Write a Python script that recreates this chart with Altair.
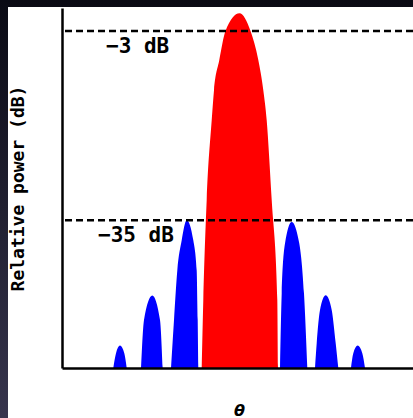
import altair as alt
import pandas as pd

# ---- data (theta: arbitrary units, power in dB) ----
main_theta = [-38.3, -36.7, -33.3, -28.3, -26.0, -20.7, -14.5, -0.5, 10.5, 18.3, 23.3, 26.7, 31.7, 37.3, 38.0]
main_db    = [-60.0, -48.5, -31.6, -18.1, -13.0, -7.9, -3.0, 0.0, -3.0, -7.9, -13.0, -18.1, -31.6, -48.5, -60.0]

l3_theta = [-126.7, -124.0, -120.0, -115.7, -113.3]
l3_db    = [-60.0, -57.5, -56.2, -57.5, -60.0]
l2_theta = [-99.0, -96.0, -87.7, -80.0, -77.3]
l2_db    = [-60.0, -51.9, -47.75, -51.9, -60.0]
l1_theta = [-69.0, -66.0, -62.7, -58.3, -53.3, -46.7, -43.3, -42.3, -41.7]
l1_db    = [-60.0, -51.9, -43.5, -38.4, -35.0, -38.4, -43.5, -51.9, -60.0]
r1_theta = [40.0, 41.7, 45.0, 51.7, 59.3, 64.0, 67.3]
r1_db    = [-60.0, -47.4, -38.95, -35.3, -38.95, -47.4, -60.0]
r2_theta = [75.0, 76.7, 80.0, 85.7, 91.7, 95.7, 98.3]
r2_db    = [-60.0, -55.8, -50.2, -47.7, -50.2, -55.8, -60.0]
r3_theta = [111.0, 113.3, 117.7, 122.3, 125.0]
r3_db    = [-60.0, -57.5, -56.2, -57.5, -60.0]

ref_levels = [-3, -35]
ref_labels = ["\u22123 dB", "\u221235 dB"]
label_theta = [-134, -142]
label_db = [-5.7, -37.7]

FLOOR = -60
X_DOMAIN = [-178, 173]
Y_DOMAIN = [-60, 0.9]

rows = []
for name, kind, th, db in [
    ("main", "main", main_theta, main_db),
    ("l3", "side", l3_theta, l3_db), ("l2", "side", l2_theta, l2_db), ("l1", "side", l1_theta, l1_db),
    ("r1", "side", r1_theta, r1_db), ("r2", "side", r2_theta, r2_db), ("r3", "side", r3_theta, r3_db),
]:
    for t, d in zip(th, db):
        rows.append({"lobe": name, "kind": kind, "theta": t, "db": d})
lobes = pd.DataFrame(rows)
refs = pd.DataFrame({"db": ref_levels})
labels = pd.DataFrame({"text": ref_labels, "theta": label_theta, "db": label_db})
one = pd.DataFrame({"a": [0]})

xs = alt.Scale(domain=X_DOMAIN, nice=False, zero=False)
ys = alt.Scale(domain=Y_DOMAIN, nice=False, zero=False)

W, H = 351, 360

bg = alt.Chart(one).mark_rect(
    color=alt.LinearGradient(
        gradient="linear",
        stops=[alt.GradientStop(color="#0a0a14", offset=0), alt.GradientStop(color="#37354d", offset=1)],
        x1=0, x2=0, y1=0, y2=1,
    )
).encode(x=alt.value(-62), x2=alt.value(W), y=alt.value(-8), y2=alt.value(H + 50))

white = alt.Chart(one).mark_rect(color="white").encode(
    x=alt.value(-54), x2=alt.value(W), y=alt.value(-1), y2=alt.value(H + 50)
)

areas = alt.Chart(lobes).mark_area(interpolate="monotone").encode(
    x=alt.X("theta:Q", scale=xs,
            axis=alt.Axis(title="\u03b8", ticks=False, labels=False, grid=False, zindex=1,
                          domainColor="black", domainWidth=2.5,
                          titleFont="DejaVu Sans", titleFontSize=16, titleFontWeight="bold",
                          titleFontStyle="italic", titleColor="black",
                          titleX=177, titleY=42, titleAlign="center", titleBaseline="middle")),
    y=alt.Y("db:Q", scale=ys,
            axis=alt.Axis(title="Relative power (dB)", ticks=False, labels=False, grid=False, zindex=1,
                          domainColor="black", domainWidth=2.5,
                          titleFont="DejaVu Sans Mono", titleFontSize=18, titleFontWeight="bold",
                          titleColor="black", titleAngle=270,
                          titleX=-44, titleY=180, titleAlign="center", titleBaseline="middle")),
    y2=alt.datum(FLOOR),
    color=alt.Color("kind:N", scale=alt.Scale(domain=["main", "side"], range=["#ff0000", "#0000ff"]), legend=None),
    detail="lobe:N",
)

rules = alt.Chart(refs).mark_rule(color="black", strokeWidth=2.5, strokeDash=[7, 4]).encode(
    y=alt.Y("db:Q", scale=ys)
)

texts = alt.Chart(labels).mark_text(
    font="DejaVu Sans Mono", fontSize=21, fontWeight="bold", color="black", align="left", baseline="middle"
).encode(
    x=alt.X("theta:Q", scale=xs), y=alt.Y("db:Q", scale=ys), text="text:N"
)

chart = alt.layer(bg, white, areas, rules, texts).properties(
    width=W, height=H,
    padding={"left": 62, "top": 8, "right": 0, "bottom": 50},
    autosize=alt.AutoSizeParams(type="none"),
    background="#15152a",
).configure_view(stroke=None)

chart.save("out.html", embed_options={"renderer": "svg", "actions": False})
